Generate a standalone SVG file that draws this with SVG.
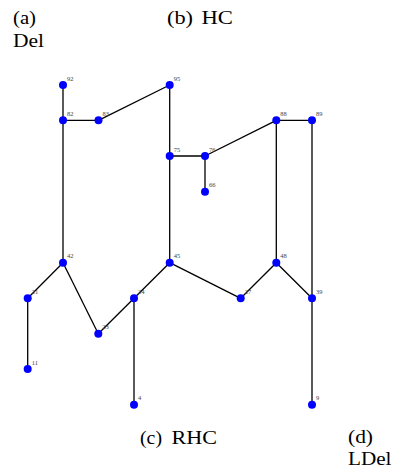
<svg xmlns="http://www.w3.org/2000/svg" width="401" height="468" viewBox="0 0 401 468">
<style>
.e{stroke:#000;stroke-width:1.3;fill:none}
.n circle{fill:#0000ff}
.n text{font-family:"Liberation Serif",serif;font-size:6.5px;fill:#444}
.cap{font-family:"Liberation Serif",serif;font-size:18px;fill:#000}
</style>
<rect width="401" height="468" fill="#fff"/>
<g id="captions">
<text class="cap" x="13" y="23.5" textLength="23" lengthAdjust="spacingAndGlyphs">(a)</text>
<text class="cap" x="13" y="46.5" textLength="31" lengthAdjust="spacingAndGlyphs">Del</text>
<text class="cap" x="167" y="23.5" textLength="26" lengthAdjust="spacingAndGlyphs">(b)</text>
<text class="cap" x="201.5" y="23.5" textLength="31.5" lengthAdjust="spacingAndGlyphs">HC</text>
<text class="cap" x="140" y="443.5" textLength="22" lengthAdjust="spacingAndGlyphs">(c)</text>
<text class="cap" x="171.5" y="443.5" textLength="45.5" lengthAdjust="spacingAndGlyphs">RHC</text>
<text class="cap" x="348" y="443" textLength="25" lengthAdjust="spacingAndGlyphs">(d)</text>
<text class="cap" x="348" y="465" textLength="43.5" lengthAdjust="spacingAndGlyphs">LDel</text>
</g>
<g id="connectors">
<line class="e" x1="63" y1="85" x2="63" y2="120.3"/>
<line class="e" x1="63" y1="120.3" x2="98.5" y2="120.3"/>
<line class="e" x1="98.5" y1="120.3" x2="169.7" y2="85"/>
<line class="e" x1="169.7" y1="85" x2="169.7" y2="156"/>
<line class="e" x1="169.7" y1="156" x2="205" y2="156"/>
<line class="e" x1="205" y1="156" x2="205" y2="191.7"/>
<line class="e" x1="205" y1="156" x2="276.3" y2="120.3"/>
<line class="e" x1="276.3" y1="120.3" x2="312" y2="120.3"/>
<line class="e" x1="276.3" y1="120.3" x2="276.3" y2="262.7"/>
<line class="e" x1="312" y1="120.3" x2="312" y2="298.3"/>
<line class="e" x1="312" y1="298.3" x2="312" y2="404.7"/>
<line class="e" x1="276.3" y1="262.7" x2="312" y2="298.3"/>
<line class="e" x1="276.3" y1="262.7" x2="240.7" y2="298.3"/>
<line class="e" x1="240.7" y1="298.3" x2="169.7" y2="262.7"/>
<line class="e" x1="169.7" y1="262.7" x2="169.7" y2="156"/>
<line class="e" x1="169.7" y1="262.7" x2="134" y2="298.3"/>
<line class="e" x1="134" y1="298.3" x2="98.3" y2="333.7"/>
<line class="e" x1="134" y1="298.3" x2="134" y2="404.7"/>
<line class="e" x1="98.3" y1="333.7" x2="63" y2="262.7"/>
<line class="e" x1="63" y1="262.7" x2="63" y2="120.3"/>
<line class="e" x1="63" y1="262.7" x2="27.7" y2="298.3"/>
<line class="e" x1="27.7" y1="298.3" x2="27.7" y2="369"/>
</g>
<g id="n92" class="n"><circle cx="63" cy="85" r="4"/><text x="67" y="80.5">92</text></g>
<g id="n82" class="n"><circle cx="63" cy="120.3" r="4"/><text x="67" y="115.8">82</text></g>
<g id="n83" class="n"><circle cx="98.5" cy="120.3" r="4"/><text x="102.5" y="115.8">83</text></g>
<g id="n95" class="n"><circle cx="169.7" cy="85" r="4"/><text x="173.7" y="80.5">95</text></g>
<g id="n75" class="n"><circle cx="169.7" cy="156" r="4"/><text x="173.7" y="151.5">75</text></g>
<g id="n76" class="n"><circle cx="205" cy="156" r="4"/><text x="209" y="151.5">76</text></g>
<g id="n66" class="n"><circle cx="205" cy="191.7" r="4"/><text x="209" y="187.2">66</text></g>
<g id="n88" class="n"><circle cx="276.3" cy="120.3" r="4"/><text x="280.3" y="115.8">88</text></g>
<g id="n89" class="n"><circle cx="312" cy="120.3" r="4"/><text x="316" y="115.8">89</text></g>
<g id="n42" class="n"><circle cx="63" cy="262.7" r="4"/><text x="67" y="258.2">42</text></g>
<g id="n45" class="n"><circle cx="169.7" cy="262.7" r="4"/><text x="173.7" y="258.2">45</text></g>
<g id="n48" class="n"><circle cx="276.3" cy="262.7" r="4"/><text x="280.3" y="258.2">48</text></g>
<g id="n21" class="n"><circle cx="27.7" cy="298.3" r="4"/><text x="31.7" y="293.8">21</text></g>
<g id="n24" class="n"><circle cx="134" cy="298.3" r="4"/><text x="138" y="293.8">24</text></g>
<g id="n27" class="n"><circle cx="240.7" cy="298.3" r="4"/><text x="244.7" y="293.8">27</text></g>
<g id="n39" class="n"><circle cx="312" cy="298.3" r="4"/><text x="316" y="293.8">39</text></g>
<g id="n23" class="n"><circle cx="98.3" cy="333.7" r="4"/><text x="102.3" y="329.2">23</text></g>
<g id="n11" class="n"><circle cx="27.7" cy="369" r="4"/><text x="31.7" y="364.5">11</text></g>
<g id="n4" class="n"><circle cx="134" cy="404.7" r="4"/><text x="138" y="400.2">4</text></g>
<g id="n9" class="n"><circle cx="312" cy="404.7" r="4"/><text x="316" y="400.2">9</text></g>
</svg>
